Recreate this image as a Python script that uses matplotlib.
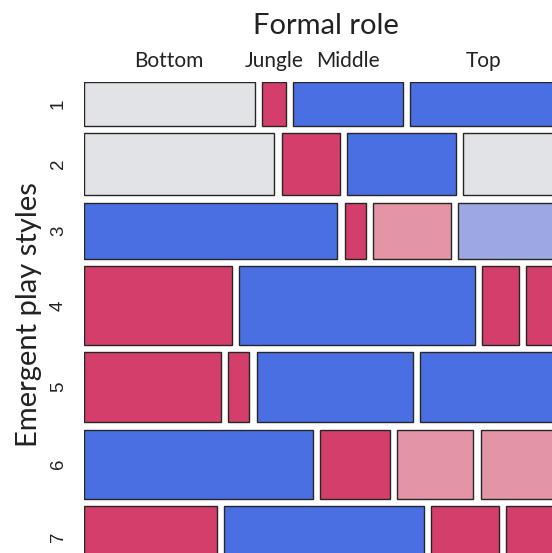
import numpy as np
import matplotlib
matplotlib.use("Agg")
import matplotlib.pyplot as plt
from matplotlib.patches import Rectangle

# contingency table: emergent play style (rows) x formal role (columns)
styles = ["1", "2", "3", "4", "5", "6", "7"]
roles = ["Bottom", "Jungle", "Middle", "Top"]
counts = np.array([
    [50, 7, 32, 43],
    [79, 24, 45, 39],
    [95, 8, 29, 37],
    [77, 123, 19, 16],
    [64, 10, 73, 64],
    [105, 32, 35, 35],
    [55, 82, 28, 21],
])
# shading level per cell: -2 strong blue ... 0 grey ... 2 strong red
shade = np.array([
    [0, 2, -2, -2],
    [0, 2, -2, 0],
    [-2, 2, 1, -1],
    [2, -2, 2, 2],
    [2, 2, -2, -2],
    [-2, 2, 1, 1],
    [2, -2, 2, 2],
])
palette = {-2: "#4A6FE3", -1: "#9DA8E2", 0: "#E2E3E6", 1: "#E495A5", 2: "#D33F6A"}

W, H = 552, 553
fig = plt.figure(figsize=(W / 100, H / 100), dpi=100)

# plot region in pixels (runs past the right and bottom edges)
left_px, right_px, top_px, bottom_px = 83.7, 557.0, 81.7, 567.8
ax = fig.add_axes([left_px / W, (H - bottom_px) / H,
                   (right_px - left_px) / W, (bottom_px - top_px) / H])

gx = 7.27 / (right_px - left_px)
gy = 7.3 / (bottom_px - top_px)

row_tot = counts.sum(axis=1)
row_h = (1 - gy * (len(styles) - 1)) * row_tot / row_tot.sum()

centers_y = []
first_row_x = []
y = 0.0
for i in range(len(styles)):
    widths = (1 - gx * (len(roles) - 1)) * counts[i] / row_tot[i]
    x = 0.0
    for j in range(len(roles)):
        ax.add_patch(Rectangle((x, y), widths[j], row_h[i],
                               facecolor=palette[shade[i, j]],
                               edgecolor="#262626", linewidth=1.0))
        if i == 0:
            first_row_x.append(x + widths[j] / 2)
        x += widths[j] + gx
    centers_y.append(y + row_h[i] / 2)
    y += row_h[i] + gy

ax.set_xlim(0, 1)
ax.set_ylim(1, 0)
for s in ax.spines.values():
    s.set_visible(False)

ax.xaxis.tick_top()
ax.set_xticks(first_row_x)
ax.set_xticklabels(roles, fontsize=15, family="Lato", color="#222222")
ax.tick_params(axis="x", length=0, pad=8)

ax.set_yticks(centers_y)
ax.set_yticklabels(styles, rotation=90, va="center", fontsize=13.5,
                   family="Liberation Sans", color="#222222")
ax.tick_params(axis="y", length=0, pad=12)

fig.text(326 / W, 1 - 26 / H, "Formal role", ha="center", va="center",
         fontsize=21, family="Lato", color="#222222")
fig.text(29 / W, 1 - 315 / H, "Emergent play styles", ha="center", va="center",
         rotation=90, fontsize=21, family="Lato", color="#222222")

fig.savefig("out.png", dpi=100)
